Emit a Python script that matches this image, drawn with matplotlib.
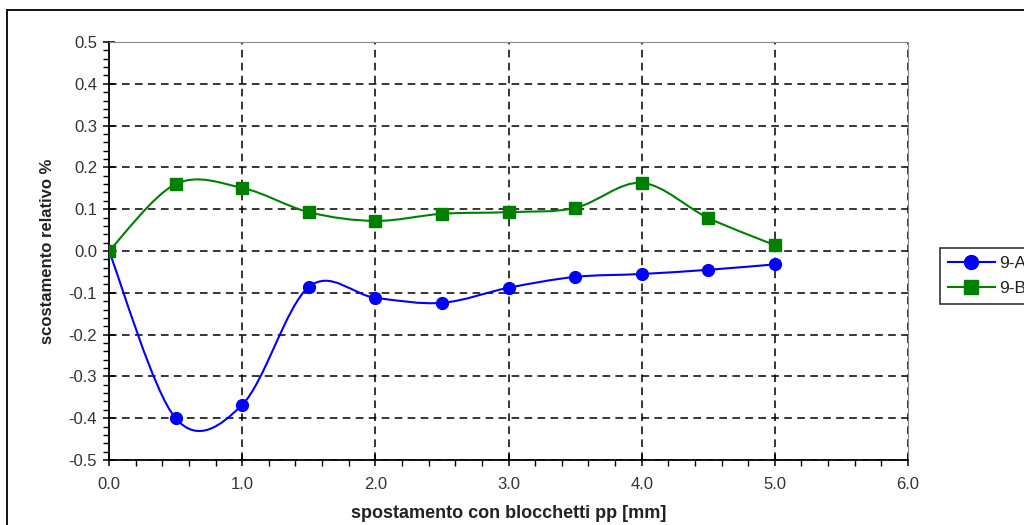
import matplotlib.pyplot as plt
from matplotlib.path import Path
from matplotlib.patches import PathPatch, Rectangle
from matplotlib.lines import Line2D
from matplotlib.ticker import MultipleLocator

plt.rcParams['font.family'] = ['Liberation Sans', 'DejaVu Sans']

# data
spostamento = [0.0, 0.5, 1.0, 1.5, 2.0, 2.5, 3.0, 3.5, 4.0, 4.5, 5.0]
serie_a = [0.0, -0.400, -0.368, -0.086, -0.112, -0.124, -0.088, -0.062, -0.055, -0.045, -0.032]
serie_b = [0.0, 0.160, 0.151, 0.093, 0.072, 0.089, 0.093, 0.103, 0.163, 0.079, 0.014]
nomi = ['9-A', '9-B']
colori = ['#0000ff', '#008000']
marker = ['o', 's']


def smooth_path(xs, ys):
    # Excel-style smoothed line: cubic bezier segments through the points
    verts = [(xs[0], ys[0])]
    codes = [Path.MOVETO]
    n = len(xs)
    for i in range(n - 1):
        x0, y0 = (xs[i - 1], ys[i - 1]) if i > 0 else (xs[i], ys[i])
        x1, y1 = xs[i], ys[i]
        x2, y2 = xs[i + 1], ys[i + 1]
        x3, y3 = (xs[i + 2], ys[i + 2]) if i + 2 < n else (x2, y2)
        c1 = (x1 + (x2 - x0) / 6.0, y1 + (y2 - y0) / 6.0)
        c2 = (x2 - (x3 - x1) / 6.0, y2 - (y3 - y1) / 6.0)
        verts += [c1, c2, (x2, y2)]
        codes += [Path.CURVE4] * 3
    return Path(verts, codes)


fig = plt.figure(figsize=(10.24, 5.25), dpi=100, facecolor='white')
ax = fig.add_axes([109 / 1024, 1 - 460 / 525, (908 - 109) / 1024, (460 - 42) / 525])

for ys, c, m in zip([serie_a, serie_b], colori, marker):
    ax.add_patch(PathPatch(smooth_path(spostamento, ys), fc='none', ec=c, lw=1.5, zorder=3))
    ax.plot(spostamento, ys, ls='none', marker=m, ms=8.5, color=c, zorder=4)

ax.set_xlim(0, 6)
ax.set_ylim(-0.5, 0.5)
ax.xaxis.set_major_locator(MultipleLocator(1.0))
ax.xaxis.set_minor_locator(MultipleLocator(0.2))
ax.yaxis.set_major_locator(MultipleLocator(0.1))
ax.yaxis.set_minor_locator(MultipleLocator(0.02))
ax.xaxis.set_major_formatter(plt.FormatStrFormatter('%.1f'))
ax.yaxis.set_major_formatter(plt.FormatStrFormatter('%.1f'))
ax.tick_params(which='major', direction='inout', length=9, width=1.1, labelsize=12,
               colors='black', labelcolor='#333333')
ax.tick_params(which='minor', direction='out', length=4, width=1)
ax.tick_params(axis='y', pad=4)
ax.tick_params(axis='x', pad=8)

ax.grid(True, which='major', color='black', ls=(0, (5, 3.5)), lw=1.1)
ax.spines['left'].set_color('black')
ax.spines['bottom'].set_color('black')
ax.spines['left'].set_linewidth(1.3)
ax.spines['bottom'].set_linewidth(1.3)
ax.spines['top'].set_color('#888888')
ax.spines['right'].set_color('#888888')

ax.set_xlabel('spostamento con blocchetti pp [mm]', fontsize=13, fontweight='bold', labelpad=9,
              color='#222222')
ax.set_ylabel('scostamento relativo %', fontsize=12, fontweight='bold', labelpad=10,
              color='#222222')

# outer chart frame
fig.patches.append(Rectangle((7 / 1024, -0.05), 1.1, 1 - 10 / 525 + 0.05,
                             transform=fig.transFigure, fill=False, ec='black', lw=1.3))

handles = [Line2D([], [], color=c, marker=m, ms=10, lw=1.5) for c, m in zip(colori, marker)]
leg = fig.legend(handles, nomi, loc='center left', bbox_to_anchor=(940 / 1024, 1 - 276 / 525),
                 frameon=True, fancybox=False, edgecolor='black', fontsize=12.5,
                 handlelength=2.7, handletextpad=0.25, borderpad=0.45, labelspacing=0.55,
                 borderaxespad=0)
leg.get_frame().set_linewidth(1.2)
for t in leg.get_texts():
    t.set_color('#222222')

fig.savefig('out.png', dpi=100)
